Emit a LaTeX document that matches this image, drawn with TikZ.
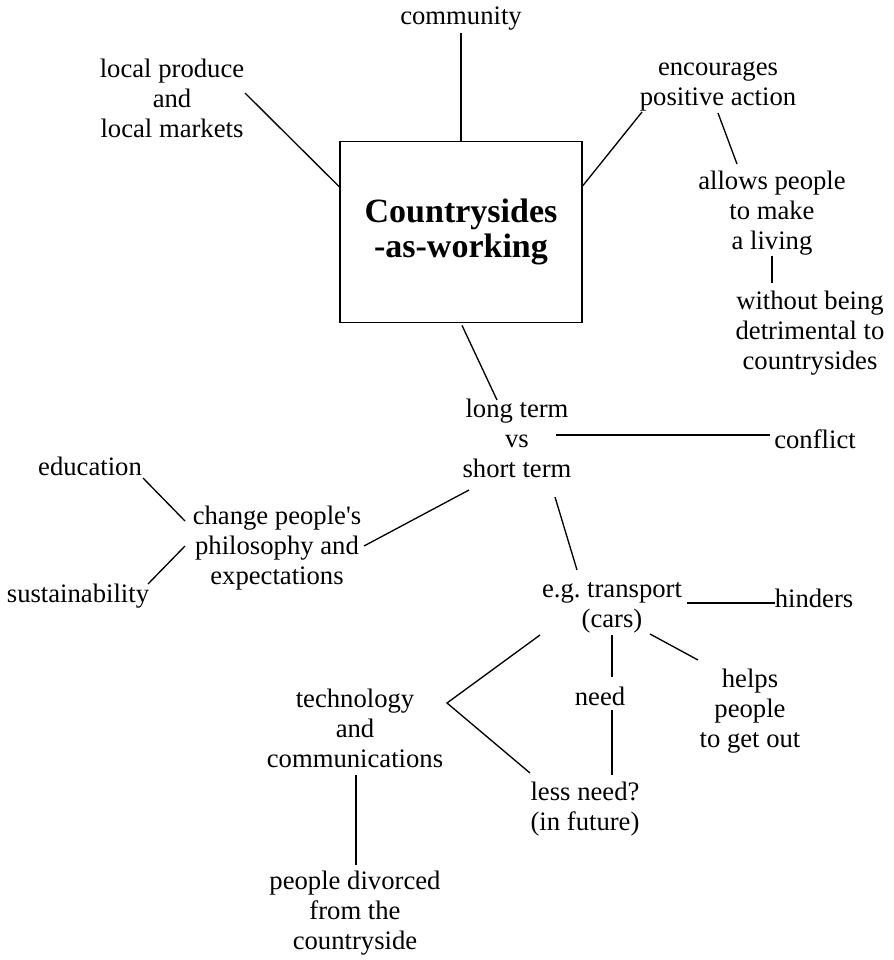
\documentclass[tikz,border=0pt]{standalone}
\usepackage{fontspec}
\setmainfont{Liberation Serif}
\usetikzlibrary{calc}
\frenchspacing
\begin{document}
\begin{tikzpicture}[x=0.75pt,y=-0.75pt,
  lbl/.style={align=center,inner sep=1pt,font=\fontsize{20}{22.5}\selectfont},
  link/.style={line width=1pt},
  hub/.style={draw,line width=1.3pt,minimum width=181.5pt,minimum height=135.75pt,
    align=center,font=\fontsize{25.5}{26.25}\selectfont\bfseries}]
\useasboundingbox (0,0) rectangle (893,960);

% central box
\node[hub] (box) at (461,232) {Countrysides\\-as-working};

% text nodes
\node[lbl] (comm) at (461,19) {community};
\node[lbl] (lp) at (172,98) {local produce\\and\\local markets};
\node[lbl] (enc) at (718,86) {encourages\\positive action};
\node[lbl] (allow) at (772,213) {allows people\\to make\\a living};
\node[lbl] (without) at (810,333) {without being\\detrimental to\\countrysides};
\node[lbl] (long) at (517,438) {long term\\vs\\short term};
\node[lbl] (conflict) at (815,439) {conflict};
\node[lbl] (change) at (277,548) {change people\textquotesingle s\\philosophy and\\expectations};
\node[lbl] (edu) at (90,466) {education};
\node[lbl] (sust) at (78,596) {sustainability};
\node[lbl] (eg) at (612,608) {e.g.\ transport\\(cars)};
\node[lbl] (hind) at (814,598) {hinders};
\node[lbl] (need) at (600,696) {need};
\node[lbl] (helps) at (750,711) {helps\\people\\to get out};
\node[lbl] (less) at (585,809) {less need?\\(in future)};
\node[lbl] (tech) at (355,728) {technology\\and\\communications};
\node[lbl] (div) at (355,913) {people divorced\\from the\\countryside};
\coordinate (fork) at (447,703);

% connectors
\draw[link] ($(comm)+(0,14)$) -- (box.north);
\draw[link] ($(lp)+(73,-5)$) -- ($(box.north west)+(0,46)$);
\draw[link] ($(enc)+(-76,26)$) -- ($(box.north east)+(0,45)$);
\draw[link] ($(enc)+(0,27)$) -- ($(allow)+(-35,-49)$);
\draw[link] ($(allow)+(0,43)$) -- ($(without)+(-38,-50)$);
\draw[link] ($(box.south)+(1,2)$) -- ($(long)+(-20,-38)$);
\draw[link] ($(long)+(39,-3)$) -- ($(conflict)+(-45,-4)$);
\draw[link] ($(long)+(-48,52)$) -- ($(change)+(87,-2)$);
\draw[link] ($(edu)+(53,12)$) -- ($(change)+(-92,-27)$);
\draw[link] ($(sust)+(70,-12)$) -- ($(change)+(-92,-2)$);
\draw[link] ($(long)+(38,59)$) -- ($(eg)+(-35,-38)$);
\draw[link] ($(eg)+(75,-5)$) -- ($(hind)+(-39,5)$);
\draw[link] ($(eg)+(-72,27)$) -- (fork) -- ($(less)+(-55,-36)$);
\draw[link] ($(eg)+(0,27)$) -- ($(need)+(12,-19)$);
\draw[link] ($(need)+(12,14)$) -- ($(less)+(27,-34)$);
\draw[link] ($(eg)+(38,26)$) -- ($(helps)+(-52,-51)$);
\draw[link] ($(tech)+(1,47)$) -- ($(div)+(1,-48)$);
\end{tikzpicture}
\end{document}
